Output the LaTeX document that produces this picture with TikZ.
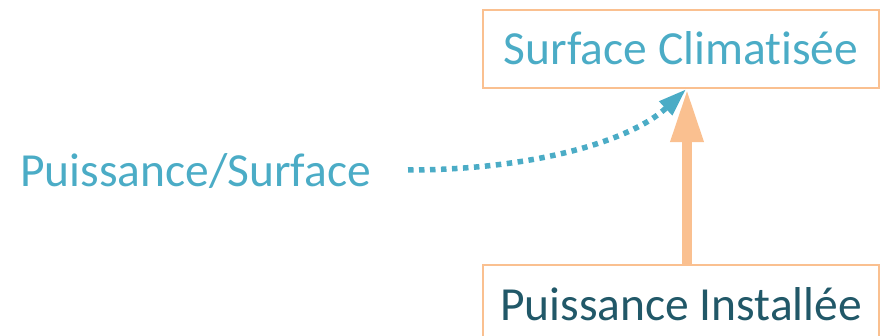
\documentclass[tikz,border=0pt]{standalone}
\usepackage{fontspec}
\setmainfont[Ligatures=NoCommon]{Carlito}
\usetikzlibrary{arrows.meta}
\definecolor{aqua}{HTML}{4BACC6}
\definecolor{deepteal}{HTML}{215868}
\definecolor{peach}{HTML}{FAC090}
\begin{document}
\begin{tikzpicture}[x=1pt,y=-1pt,
  every node/.style={font=\fontsize{47.5}{50}\selectfont},
  framebox/.style={draw=peach,line width=2.5pt,rectangle,
    minimum width=396pt,minimum height=78pt,inner sep=0pt,
    text height=32pt,text depth=0pt},
  bigarrow/.style={draw=peach,line width=10pt,
    -{Triangle[length=53pt,width=31pt]}},
  dotarrow/.style={draw=aqua,line width=5.5pt,
    dash pattern=on 5.5pt off 5.5pt,
    -{Triangle[length=28pt,width=18pt]}}]
\useasboundingbox (0,0) rectangle (880,336);
\begin{scope}
\clip (0,0) rectangle (880,336);
\node[framebox,text=aqua] (surf) at (681,49) {Surface Climatisée};
\node[framebox,text=deepteal] (puis) at (681,304) {Puissance Installée};
\end{scope}
\node[text=aqua,anchor=base,inner sep=0pt] (ratio) at (195.5,187) {Puissance/Surface};
\coordinate (dotstart) at (408,170);
\draw[bigarrow] ([xshift=6pt]puis.north) -- ([xshift=6pt]surf.south);
\draw[dotarrow] (dotstart) .. controls (530,170) and (630,142) .. ([xshift=5pt]surf.south);
\end{tikzpicture}
\end{document}
